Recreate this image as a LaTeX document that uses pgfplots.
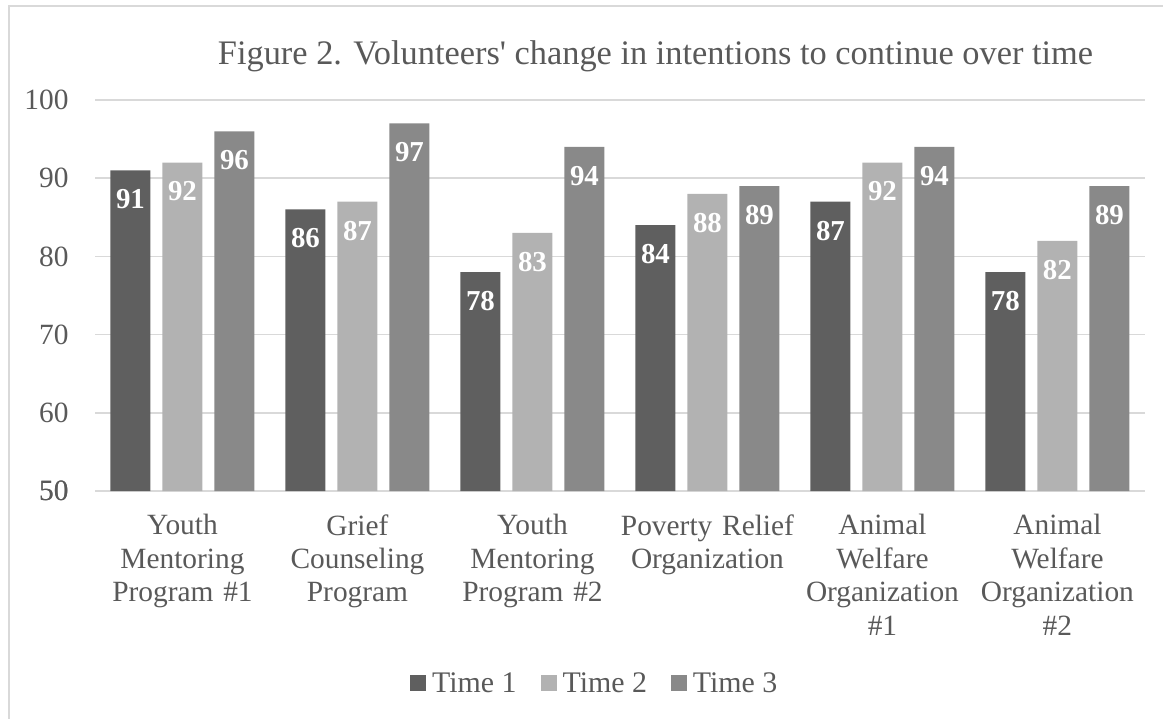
\documentclass[border=0pt]{standalone}
\usepackage{pgfplots}
\pgfplotsset{compat=1.18}
\usepackage{fontspec}
\setmainfont{Liberation Serif}
\newfontfamily\titlefont{Liberation Serif}[Ligatures=TeXOff]
\definecolor{txt}{HTML}{595959}
\definecolor{gridc}{HTML}{D9D9D9}
\definecolor{cA}{HTML}{5F5F5F}
\definecolor{cB}{HTML}{B2B2B2}
\definecolor{cC}{HTML}{898989}
\begin{document}
\begin{tikzpicture}
\path[use as bounding box] (0,0) rectangle (1163bp,719bp);
\draw[gridc, line width=1.5bp] (9bp,0) -- (9bp,713bp) -- (1163bp,713bp);
\node[anchor=base, text=txt, font=\titlefont\fontsize{34.5}{40}\selectfont, inner sep=0pt] at (655.5bp,654bp) {Figure 2. Volunteers' change in intentions to continue over time};
\begin{axis}[
  at={(95bp,228bp)}, anchor=south west,
  scale only axis, width=1050bp, height=391bp,
  ybar=12bp, bar width=40bp,
  xmin=-0.5, xmax=5.5, ymin=50, ymax=100,
  ytick={50,60,...,100},
  xtick={0,1,2,3,4,5},
  xticklabels={{Youth\\Mentoring\\Program \#1},{Grief\\Counseling\\Program},{Youth\\Mentoring\\Program \#2},{Poverty Relief\\Organization},{Animal\\Welfare\\Organization\\\#1},{Animal\\Welfare\\Organization\\\#2}},
  axis line style={draw=none},
  axis x line*=bottom,
  major tick length=0pt,
  ymajorgrids, grid style={gridc, line width=1.5bp},
  extra y ticks={50}, extra y tick style={grid style={gridc, line width=1.5bp}},
  /pgf/number format/assume math mode=true,
  tick label style={text=txt, font=\fontsize{29.5}{33.5}\selectfont},
  yticklabel style={xshift=-23bp},
  xticklabel style={align=center, text width=175bp, anchor=north, yshift=-20bp},
  nodes near coords,
  every node near coord/.append style={anchor=center, yshift=-29bp, text=white, font=\fontsize{29}{30}\selectfont\bfseries},
  legend columns=3,
  legend style={at={(0.476,-0.491)}, anchor=center, draw=none, fill=none, font=\fontsize{30}{34}\selectfont, text=txt, /tikz/every even column/.append style={column sep=22bp}, /tikz/every odd column/.append style={column sep=0bp}},
  legend image code/.code={\fill[#1] (0bp,-8bp) rectangle (16bp,8bp); \path (20bp,0bp);},
  clip=false,
]
\addplot[fill=cA, draw=none] coordinates {(0,91) (1,86) (2,78) (3,84) (4,87) (5,78)};
\addplot[fill=cB, draw=none] coordinates {(0,92) (1,87) (2,83) (3,88) (4,92) (5,82)};
\addplot[fill=cC, draw=none] coordinates {(0,96) (1,97) (2,94) (3,89) (4,94) (5,89)};
\legend{Time 1,Time 2,Time 3}
\end{axis}
\end{tikzpicture}
\end{document}
